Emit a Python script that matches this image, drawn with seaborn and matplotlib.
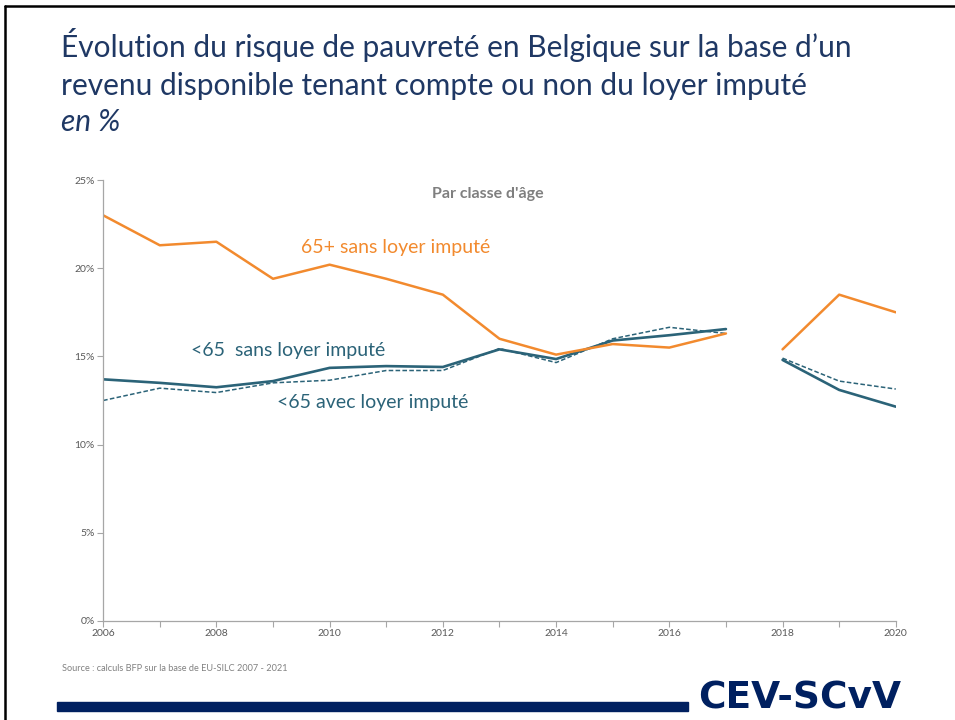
import numpy as np
import pandas as pd
import matplotlib.pyplot as plt
import matplotlib.lines as mlines
import matplotlib.patches as mpatches
import seaborn as sns

# data (break in series between 2017 and 2018)
years = [2006, 2007, 2008, 2009, 2010, 2011, 2012, 2013, 2014, 2015, 2016, 2017, 2018, 2019, 2020]
period = ["a"] * 12 + ["b"] * 3
old_sans = [23.0, 21.3, 21.5, 19.4, 20.2, 19.4, 18.5, 16.0, 15.1, 15.7, 15.5, 16.3, 15.4, 18.5, 17.5]
young_sans = [13.7, 13.5, 13.25, 13.6, 14.35, 14.45, 14.4, 15.4, 14.85, 15.9, 16.2, 16.55, 14.8, 13.1, 12.15]
young_avec = [12.5, 13.2, 12.95, 13.5, 13.65, 14.2, 14.2, 15.45, 14.65, 16.0, 16.65, 16.3, 14.9, 13.6, 13.15]
yticks = [0, 5, 10, 15, 20, 25]

df = pd.DataFrame({"year": years, "period": period,
                   "old_sans": old_sans, "young_sans": young_sans, "young_avec": young_avec})

orange = "#F28A2E"
teal = "#2B6378"
navy = "#1F3864"
grey = "#595959"

sns.set_style("white")
plt.rcParams['font.family'] = ['Lato', 'DejaVu Sans']

fig = plt.figure(figsize=(9.55, 7.2), dpi=100)
ax = fig.add_axes([0.108, 0.1375, 0.830, 0.6125])

sns.lineplot(data=df, x="year", y="young_avec", units="period", estimator=None,
             color=teal, lw=1.1, ax=ax, linestyle=(0, (3, 1.5)))
sns.lineplot(data=df, x="year", y="young_sans", units="period", estimator=None,
             color=teal, lw=1.9, ax=ax)
sns.lineplot(data=df, x="year", y="old_sans", units="period", estimator=None,
             color=orange, lw=1.8, ax=ax)

ax.set_xlim(2006, 2020)
ax.set_ylim(0, 25)
ax.set_yticks(yticks)
ax.set_yticklabels([f"{v}%" for v in yticks])
ax.set_xticks(years)
ax.set_xticklabels([str(y) if y % 2 == 0 else "" for y in years])
ax.set_xlabel("")
ax.set_ylabel("")
for s in ["top", "right"]:
    ax.spines[s].set_visible(False)
for s in ["left", "bottom"]:
    ax.spines[s].set_color("#A6A6A6")
    ax.spines[s].set_linewidth(0.9)
ax.tick_params(axis="both", which="both", direction="out", length=4, width=0.8,
               color="#A6A6A6", labelcolor=grey, labelsize=7.5, pad=2,
               bottom=True, left=True)
ax.patch.set_alpha(0)

ax.text(2012.8, 24.2, "Par classe d'âge", ha="center", va="center",
        fontsize=11.5, fontweight="bold", color="#7F7F7F")
ax.text(2009.5, 21.15, "65+ sans loyer imputé", ha="left", va="center", fontsize=14, color=orange)
ax.text(2007.55, 15.36, "<65  sans loyer imputé", ha="left", va="center", fontsize=14, color=teal)
ax.text(2009.07, 12.36, "<65 avec loyer imputé", ha="left", va="center", fontsize=14, color=teal)

# slide title
fig.text(0.064, 0.937, "Évolution du risque de pauvreté en Belgique sur la base d’un",
         fontsize=21.5, color=navy, va="center")
fig.text(0.064, 0.881, "revenu disponible tenant compte ou non du loyer imputé",
         fontsize=21.5, color=navy, va="center")
fig.text(0.064, 0.831, "en %", fontsize=21.5, color=navy, va="center", style="italic")

fig.text(0.065, 0.072, "Source : calculs BFP sur la base de EU-SILC 2007 - 2021",
         fontsize=6.6, color="#808080", va="center")

# footer bar and logo text
fig.patches.append(mpatches.Rectangle((0.060, 0.0125), 0.660, 0.0125,
                                      transform=fig.transFigure, color="#002060"))
fig.text(0.731, 0.0155, "CEV-SCvV", fontsize=27, fontweight="bold", color="#002060",
         family="DejaVu Sans", va="baseline")

# slide border (top and left)
fig.add_artist(mlines.Line2D([0.005, 1.0], [0.9915, 0.9915], transform=fig.transFigure,
                             color="black", lw=1.8))
fig.add_artist(mlines.Line2D([0.0055, 0.0055], [0.0, 0.9915], transform=fig.transFigure,
                             color="black", lw=1.8))

fig.savefig("out.png", dpi=100)
